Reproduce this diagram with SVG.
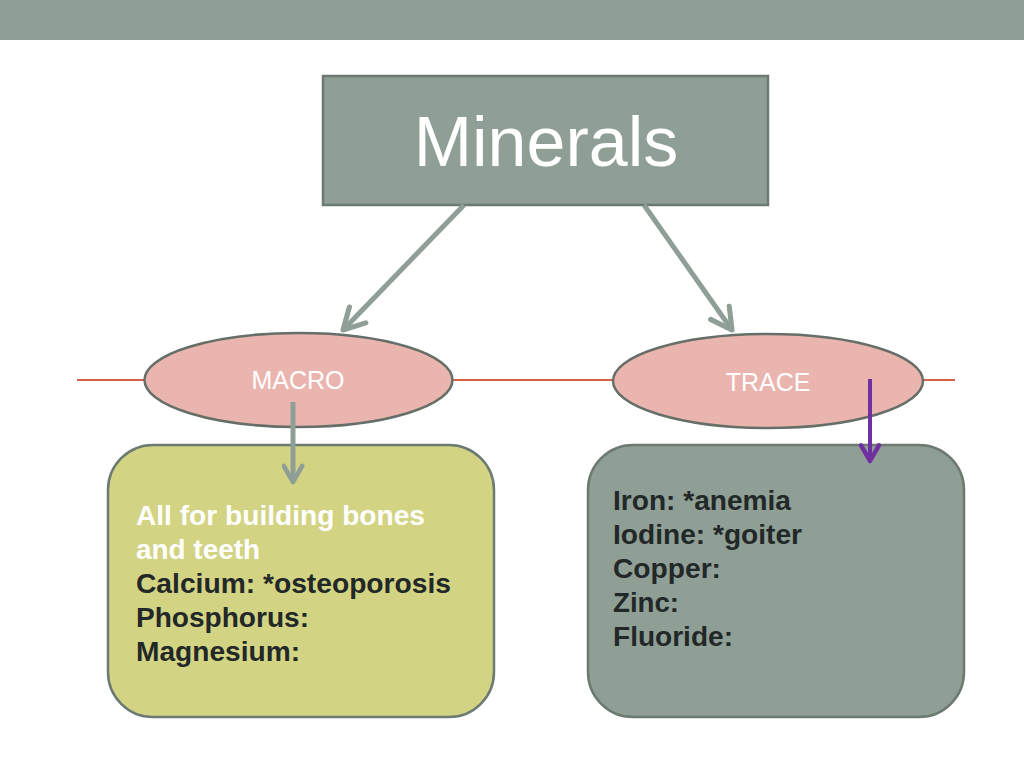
<svg xmlns="http://www.w3.org/2000/svg" width="1024" height="768" viewBox="0 0 1024 768">
<defs>
<style>
.gray{fill:#8F9F96;stroke:#6C7A72;stroke-width:2.5}
.oval{fill:#EBB5AF;stroke:#656F67;stroke-width:2.5}
.conn{fill:none;stroke:#8F9F96;stroke-width:5}
.lbl{fill:#fff;font-family:"Liberation Sans",Arial,sans-serif}
.body{font-family:"Liberation Sans",Arial,sans-serif;font-weight:bold;font-size:27px;fill:#222828}
</style>
<marker id="agL" viewBox="0 0 10 10" refX="8.5" refY="5" markerWidth="6" markerHeight="6" orient="auto" markerUnits="strokeWidth">
<path d="M1.5,1.2 L8.5,5 L1.5,8.8" fill="none" stroke="#8F9F96" stroke-width="1.7" stroke-linecap="round" stroke-linejoin="round"/>
</marker>
<marker id="ag" viewBox="0 0 10 10" refX="8.5" refY="5" markerWidth="4.6" markerHeight="4.6" orient="auto" markerUnits="strokeWidth">
<path d="M1.5,1 L8.5,5 L1.5,9" fill="none" stroke="#8F9F96" stroke-width="2" stroke-linecap="round" stroke-linejoin="round"/>
</marker>
<marker id="ap" viewBox="0 0 10 10" refX="8.5" refY="5" markerWidth="5.6" markerHeight="5.6" orient="auto" markerUnits="strokeWidth">
<path d="M1.5,1 L8.5,5 L1.5,9" fill="none" stroke="#7030A0" stroke-width="2" stroke-linecap="round" stroke-linejoin="round"/>
</marker>
</defs>
<rect width="1024" height="768" fill="#fff"/>
<rect x="0" y="0" width="1024" height="40" fill="#909F96"/>
<line x1="77" y1="380" x2="955" y2="380" stroke="#D4604A" stroke-width="2"/>
<g id="minerals">
<rect class="gray" x="323" y="76" width="445" height="129"/>
<text class="lbl" x="546" y="166" font-size="70" text-anchor="middle">Minerals</text>
</g>
<g id="macro">
<ellipse class="oval" cx="298.5" cy="380" rx="154" ry="47"/>
<text class="lbl" x="298" y="389" font-size="25" text-anchor="middle">MACRO</text>
</g>
<g id="trace">
<ellipse class="oval" cx="768" cy="381" rx="155" ry="47"/>
<text class="lbl" x="768" y="391" font-size="25" text-anchor="middle">TRACE</text>
</g>
<g id="macro-box">
<rect x="108" y="445" width="386" height="272" rx="45" fill="#D3D384" stroke="#6C7A72" stroke-width="2.5"/>
<text class="body"><tspan x="136" y="525" fill="#fff" textLength="289" lengthAdjust="spacingAndGlyphs">All for building bones</tspan><tspan x="136" y="559" fill="#fff" textLength="124" lengthAdjust="spacingAndGlyphs">and teeth</tspan><tspan x="136" y="593" textLength="315" lengthAdjust="spacingAndGlyphs">Calcium: *osteoporosis</tspan><tspan x="136" y="627" textLength="173" lengthAdjust="spacingAndGlyphs">Phosphorus:</tspan><tspan x="136" y="661" textLength="164" lengthAdjust="spacingAndGlyphs">Magnesium:</tspan></text>
</g>
<g id="trace-box">
<rect class="gray" x="588" y="445" width="376" height="272" rx="45"/>
<text class="body"><tspan x="613" y="510" textLength="178" lengthAdjust="spacingAndGlyphs">Iron: *anemia</tspan><tspan x="613" y="544" textLength="189" lengthAdjust="spacingAndGlyphs">Iodine: *goiter</tspan><tspan x="613" y="578" textLength="108" lengthAdjust="spacingAndGlyphs">Copper:</tspan><tspan x="613" y="612" textLength="66" lengthAdjust="spacingAndGlyphs">Zinc:</tspan><tspan x="613" y="646" textLength="120" lengthAdjust="spacingAndGlyphs">Fluoride:</tspan></text>
</g>
<g id="connectors">
<line class="conn" x1="464" y1="205" x2="343" y2="330" marker-end="url(#agL)"/>
<line class="conn" x1="644" y1="205" x2="732" y2="330" marker-end="url(#agL)"/>
<line class="conn" x1="293" y1="402" x2="293" y2="482" marker-end="url(#ag)"/>
<line x1="870" y1="379" x2="870" y2="461" stroke="#7030A0" stroke-width="4" marker-end="url(#ap)"/>
</g>
</svg>
